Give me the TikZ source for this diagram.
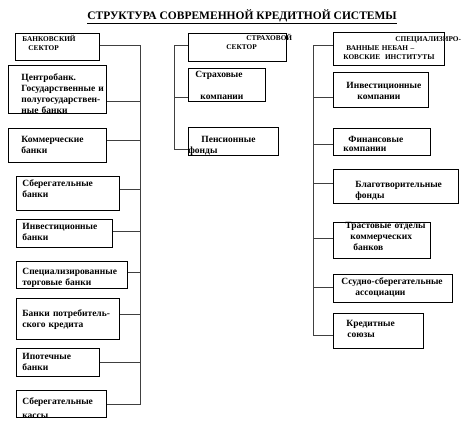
\documentclass[tikz,border=0pt]{standalone}
\usepackage{fontspec}
\setmainfont{Liberation Serif}
\usepackage{tikz}
\usetikzlibrary{calc}

\begin{document}
\begin{tikzpicture}[
    x=1pt, y=-1pt,
    box/.style={
        draw=black, line width=0.8pt,
        anchor=north west, align=left,
        inner xsep=0pt, inner ysep=0pt,
        font=\bfseries\fontsize{9.5}{11}\selectfont
    },
    head/.style={box, font=\bfseries\fontsize{7.3}{9.5}\selectfont},
    bus/.style={draw=black!75, line width=0.8pt},
    title/.style={font=\bfseries\fontsize{11.5}{14}\selectfont}
]
    \useasboundingbox (0,0) rectangle (469,432);

    % Title
    \node[title] (title) at (242,17) {\underline{СТРУКТУРА СОВРЕМЕННОЙ КРЕДИТНОЙ СИСТЕМЫ}};

    % Banking sector (left)
    \node[head, text width=84, minimum height=27, text height=0pt, text depth=11pt] (b1) at (15,33)
        {\hspace*{7pt}БАНКОВСКИЙ\\\hspace*{13pt}СЕКТОР};
    \node[box, text width=98, minimum height=48, text height=0pt, text depth=17pt] (b2) at (8,65)
        {\hspace*{13pt}Центробанк.\\\hspace*{13pt}\mbox{Государственные и}\\\hspace*{13pt}\mbox{полугосударствен-}\\\hspace*{13pt}ные банки};
    \node[box, text width=98, minimum height=34, text height=0pt, text depth=6pt] (b3) at (8,128)
        {\hspace*{13pt}Коммерческие\\\hspace*{13pt}банки};
    \node[box, text width=103, minimum height=34, text height=0pt, text depth=13pt] (b4) at (16,176)
        {\hspace*{6pt}Сберегательные\\\hspace*{6pt}банки};
    \node[box, text width=96, minimum height=28, text height=0pt, text depth=8pt] (b5) at (16,219)
        {\hspace*{6pt}Инвестиционные\\\hspace*{6pt}банки};
    \node[box, text width=111, minimum height=27, text height=0pt, text depth=1pt] (b6) at (16,261)
        {\hspace*{6pt}Специализированные\\\hspace*{6pt}торговые банки};
    \node[box, text width=103, minimum height=41, text height=0pt, text depth=5pt] (b7) at (16,298)
        {\hspace*{6pt}\mbox{Банки потребитель-}\\\hspace*{6pt}ского кредита};
    \node[box, text width=83, minimum height=28, text height=0pt, text depth=5pt] (b8) at (16,348)
        {\hspace*{6pt}Ипотечные\\\hspace*{6pt}банки};
    \node[box, text width=90, minimum height=27, text height=1pt, text depth=0pt] (b9) at (16,390)
        {\hspace*{6pt}Сберегательные\\[3pt]\hspace*{6pt}кассы};

    % Insurance sector (middle)
    \node[head, text width=98, minimum height=28, text height=0pt, text depth=14pt] (s0) at (188,33)
        {\hspace*{58pt}СТРАХОВОЙ\\\hspace*{38pt}СЕКТОР};
    \node[box, text width=77, minimum height=33, text height=0pt, text depth=14pt] (s1) at (188,68)
        {\hspace*{7pt}Страховые\\[11pt]\hspace*{12pt}компании};
    \node[box, text width=90, minimum height=28, text height=2pt, text depth=0pt] (s2) at (188,127)
        {\hspace*{13pt}Пенсионные\\фонды};

    % Specialized non-bank institutions (right)
    \node[head, text width=111, minimum height=33, text height=0pt, text depth=15pt] (r0) at (333,32)
        {\hspace*{62pt}\mbox{СПЕЦИАЛИЗИРО-}\\[-0.5pt]\hspace*{13pt}ВАННЫЕ НЕБАН --\\[-0.5pt]\hspace*{10pt}\mbox{КОВСКИЕ~~ИНСТИТУТЫ}};
    \node[box, text width=95, minimum height=35, text height=0pt, text depth=3pt] (r1) at (333,72)
        {\hspace*{13pt}Инвестиционные\\\hspace*{24pt}компании};
    \node[box, text width=97, minimum height=27, text height=1pt, text depth=0pt] (r2) at (333,128)
        {\hspace*{15pt}Финансовые\\[-2pt]\hspace*{10pt}компании};
    \node[box, text width=125, minimum height=34, text height=2pt, text depth=0pt] (r3) at (333,169)
        {\hspace*{22pt}Благотворительные\\\hspace*{22pt}фонды};
    \node[box, text width=97, minimum height=36, text height=0pt, text depth=24pt] (r4) at (333,222)
        {\hspace*{12pt}Трастовые отделы\\\hspace*{17pt}коммерческих\\\hspace*{20pt}банков};
    \node[box, text width=119, minimum height=28, text height=0pt, text depth=7pt] (r5) at (333,274)
        {\hspace*{8pt}\mbox{Ссудно-сберегательные}\\\hspace*{22pt}ассоциации};
    \node[box, text width=90, minimum height=35, text height=0pt, text depth=9pt] (r6) at (333,313)
        {\hspace*{13pt}Кредитные\\\hspace*{14pt}союзы};

    % Buses
    \coordinate (lbus) at (140,45);
    \coordinate (mbus) at (174,45);
    \coordinate (rbus) at (313,45);

    % Connectors
    \path[bus] ([yshift=1.5pt]b1.east) -| (lbus |- b9.east) -- (b9.east);
    \foreach \n/\s in {b2/-12, b3/5, b4/4, b5/2, b6/2.5, b7/4.5, b8/0}
        \path[bus] ([yshift=\s pt]\n.east) -- ([yshift=\s pt]\n.east -| lbus);

    \path[bus] ([yshift=2pt]s0.west) -| ([yshift=-8pt]mbus |- s2.west) -- ([yshift=-8pt]s2.west);
    \path[bus] ([yshift=-12.5pt]s1.west) -- ([yshift=-12.5pt]s1.west -| mbus);

    \path[bus] ([yshift=3.5pt]r0.west) -| ([yshift=-4.5pt]rbus |- r6.west) -- ([yshift=-4.5pt]r6.west);
    \foreach \n/\s in {r1/-7.5, r2/-2.5, r3/3, r4/2, r5/1}
        \path[bus] ([yshift=\s pt]\n.west) -- ([yshift=\s pt]\n.west -| rbus);

\end{tikzpicture}
\end{document}
